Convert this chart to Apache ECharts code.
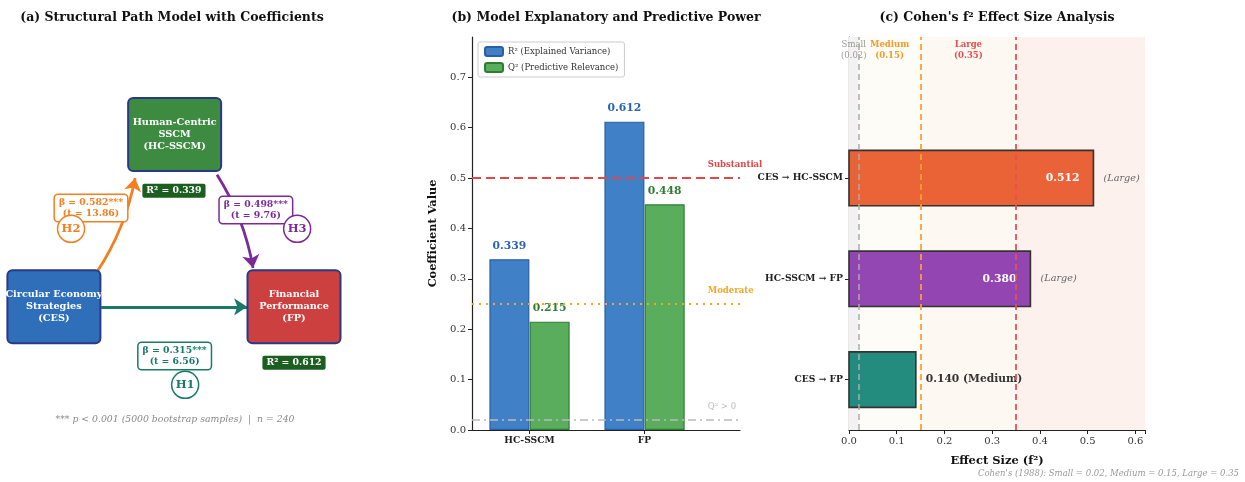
<!DOCTYPE html>
<html>
<head>
<meta charset="utf-8">
<script src="https://cdn.jsdelivr.net/npm/echarts@6/dist/echarts.min.js"></script>
<style>
  html, body { margin: 0; padding: 0; background: #fff; }
  #chart { width: 1245px; height: 482px; }
</style>
</head>
<body>
<div id="chart"></div>
<script>
// (a) path model
const constructs = ['CES', 'HC-SSCM', 'FP'];
const constructLabels = ['Circular Economy\nStrategies\n(CES)', 'Human-Centric\nSSCM\n(HC-SSCM)', 'Financial\nPerformance\n(FP)'];
const pathHypotheses = ['H1', 'H2', 'H3'];
const pathFrom = ['CES', 'CES', 'HC-SSCM'];
const pathTo = ['FP', 'HC-SSCM', 'FP'];
const pathBeta = [0.315, 0.582, 0.498];
const pathT = [6.56, 13.86, 9.76];
const r2Targets = ['HC-SSCM', 'FP'];
const r2Model = [0.339, 0.612];

// (b) explanatory / predictive power
const powerCategories = ['HC-SSCM', 'FP'];
const r2Values = [0.339, 0.612];
const q2Values = [0.215, 0.448];
const refNames = ['Substantial', 'Moderate', 'Q² > 0'];
const refValues = [0.5, 0.25, 0.02];

// (c) effect sizes
const effectPaths = ['CES → FP', 'HC-SSCM → FP', 'CES → HC-SSCM'];
const effectValues = [0.140, 0.380, 0.512];
const effectClasses = ['Medium', 'Large', 'Large'];
const cohenNames = ['Small', 'Medium', 'Large'];
const cohenThresholds = [0.02, 0.15, 0.35];

// layout of the diagram, in the (0..10) units of the hidden panel (a) axes
const modelLayout = {
  nodes: { 'CES': [1.54, 3.33], 'HC-SSCM': [4.99, 7.64], 'FP': [8.4, 3.33] },
  arrows: [[[2.89, 3.33], [7.06, 3.33], 0], [[2.77, 4.2], [3.86, 6.55], -0.1], [[6.2, 6.63], [7.23, 4.3], 0.1]],
  betaBox: [[4.99, 2.1], [2.6, 5.8], [7.31, 5.75]],
  hypCircle: [[5.29, 1.38], [2.03, 5.28], [8.49, 5.28]],
  r2Box: { 'HC-SSCM': [4.97, 6.23], 'FP': [8.4, 1.93] }
};

const FONT = '"DejaVu Serif"';
const nodeColors = { 'CES': '#2f6fba', 'HC-SSCM': '#3d8b40', 'FP': '#cc4040' };
const pathColors = ['#1a7a68', '#f57f20', '#7b2a98'];
const effectColors = ['rgba(0,121,107,0.86)', 'rgba(123,31,162,0.82)', 'rgba(230,74,25,0.86)'];
const cohenLineColors = ['#aaaaaa', '#ffa030', '#e85050'];
const cohenTextColors = ['#999999', '#f59a25', '#e05050'];
const cohenBandColors = ['#f2f2f2', '#fefcf7', '#fdf8f1', '#fdf1ee'];
const refColors = ['#e04848', '#f5a623', '#bbbbbb'];

const chart = echarts.init(document.getElementById('chart'), null, { renderer: 'canvas' });

const txt = (x, y, text, font, fill, align) => ({
  type: 'text', x: x, y: y,
  style: { text: text, font: font, fill: fill, textAlign: align || 'center', textVerticalAlign: 'middle', align: align || 'center', verticalAlign: 'middle' }
});

const cohenEdges = [0].concat(cohenThresholds);
const cohenMids = cohenThresholds.map((t, i) => (cohenEdges[i] + t) / 2);
const isInt = v => Math.abs(v - Math.round(v)) < 1e-6;
const solid = { opacity: 1 };

const option = {
  animation: false,
  textStyle: { fontFamily: FONT },
  graphic: [
    txt(172, 18, '(a) Structural Path Model with Coefficients', 'bold 12.5px ' + FONT, '#111'),
    txt(606, 18, '(b) Model Explanatory and Predictive Power', 'bold 12.5px ' + FONT, '#111'),
    txt(997, 18, "(c) Cohen's f² Effect Size Analysis", 'bold 12.5px ' + FONT, '#111'),
    txt(175, 420, '*** p < 0.001 (5000 bootstrap samples)  |  n = 240', 'italic 9.3px ' + FONT, '#888'),
    txt(1239, 474, "Cohen's (1988): Small = 0.02, Medium = 0.15, Large = 0.35", 'italic 8.5px ' + FONT, '#999', 'right')
  ],
  legend: {
    left: 478, top: 42, orient: 'vertical',
    data: ['R² (Explained Variance)', 'Q² (Predictive Relevance)'],
    backgroundColor: '#fff', borderColor: '#cccccc', borderWidth: 1, borderRadius: 2,
    padding: [4, 6], itemGap: 5, itemWidth: 18, itemHeight: 9,
    textStyle: { fontSize: 8.5, color: '#333', fontFamily: FONT }
  },
  grid: [
    { left: 0, top: 40, width: 350, height: 400 },
    { left: 472, top: 37, width: 268, height: 393 },
    { left: 849, top: 37, width: 296, height: 393 }
  ],
  xAxis: [
    { gridIndex: 0, type: 'value', min: 0, max: 10, show: false },
    {
      gridIndex: 1, type: 'value', min: -0.5, max: 1.83,
      splitLine: { show: false },
      axisTick: { show: true, length: 4, customValues: [0, 1], lineStyle: { color: '#222' } },
      axisLine: { show: true, onZero: false, lineStyle: { color: '#222', width: 1.2 } },
      axisLabel: {
        color: '#222', fontWeight: 'bold', fontSize: 9.2, margin: 6, customValues: [0, 1],
        formatter: v => isInt(v) && powerCategories[Math.round(v)] ? powerCategories[Math.round(v)] : ''
      }
    },
    {
      gridIndex: 2, type: 'value', min: 0, max: 0.62, interval: 0.1,
      splitLine: { show: false },
      axisLine: { show: true, onZero: false, lineStyle: { color: '#222', width: 1.2 } },
      axisTick: { show: true, length: 4, lineStyle: { color: '#222' } },
      axisLabel: { color: '#333', fontSize: 10, margin: 6, formatter: v => v > 0.61 ? '' : v.toFixed(1) },
      name: 'Effect Size (f²)', nameLocation: 'middle', nameGap: 25,
      nameTextStyle: { fontWeight: 'bold', fontSize: 11.5, color: '#111', fontFamily: FONT }
    }
  ],
  yAxis: [
    { gridIndex: 0, type: 'value', min: 0, max: 10, show: false },
    {
      gridIndex: 1, type: 'value', min: 0, max: 0.78, interval: 0.1,
      splitLine: { show: false },
      axisLine: { show: true, onZero: false, lineStyle: { color: '#222', width: 1.2 } },
      axisTick: { show: true, length: 4, customValues: [0, 0.1, 0.2, 0.3, 0.4, 0.5, 0.6, 0.7], lineStyle: { color: '#222' } },
      axisLabel: { color: '#333', fontSize: 10, margin: 6, formatter: v => v > 0.75 ? '' : v.toFixed(1) },
      name: 'Coefficient Value', nameLocation: 'middle', nameGap: 33, nameRotate: 90,
      nameTextStyle: { fontWeight: 'bold', fontSize: 11.3, color: '#111', fontFamily: FONT }
    },
    {
      gridIndex: 2, type: 'value', min: -0.5, max: 3.4,
      splitLine: { show: false },
      axisTick: { show: true, length: 4, customValues: [0, 1, 2], lineStyle: { color: '#222' } },
      axisLine: { show: true, onZero: false, lineStyle: { color: '#222', width: 1.2 } },
      axisLabel: {
        color: '#222', fontWeight: 'bold', fontSize: 9.2, margin: 6, customValues: [0, 1, 2],
        formatter: v => isInt(v) && effectPaths[Math.round(v)] ? effectPaths[Math.round(v)] : ''
      }
    }
  ],
  series: [
    // (a) construct boxes
    {
      type: 'custom', xAxisIndex: 0, yAxisIndex: 0, silent: true, z: 5,
      data: constructs.map(c => modelLayout.nodes[c]),
      renderItem: (params, api) => {
        const p = api.coord([api.value(0), api.value(1)]);
        const w = 93, h = 73;
        const name = constructs[params.dataIndex];
        return {
          type: 'group',
          children: [
            { type: 'rect', shape: { x: p[0] - w / 2, y: p[1] - h / 2, width: w, height: h, r: 5 },
              style: { fill: nodeColors[name], stroke: '#283a86', lineWidth: 2 } },
            { type: 'text', x: p[0], y: p[1],
              style: { text: constructLabels[params.dataIndex], fill: '#fff', font: 'bold 9.7px ' + FONT, lineHeight: 12,
                textAlign: 'center', textVerticalAlign: 'middle', align: 'center', verticalAlign: 'middle' } }
          ]
        };
      }
    },
    // (a) path arrows
    {
      type: 'lines', coordinateSystem: 'cartesian2d', xAxisIndex: 0, yAxisIndex: 0, silent: true, z: 4,
      symbol: ['none', 'arrow'], symbolSize: 13,
      data: pathHypotheses.map((h, i) => ({
        coords: [modelLayout.arrows[i][0], modelLayout.arrows[i][1]],
        lineStyle: { color: pathColors[i], width: 2.8, curveness: modelLayout.arrows[i][2], opacity: 1 }
      }))
    },
    // (a) coefficient boxes
    {
      type: 'scatter', xAxisIndex: 0, yAxisIndex: 0, silent: true, symbolSize: 0, z: 6, itemStyle: solid,
      data: pathBeta.map((b, i) => ({
        value: modelLayout.betaBox[i],
        label: {
          show: true, position: 'inside',
          formatter: 'β = ' + b.toFixed(3) + '***\n(t = ' + pathT[i].toFixed(2) + ')',
          color: pathColors[i], fontWeight: 'bold', fontSize: 9.3, lineHeight: 11.5, align: 'center',
          backgroundColor: '#fff', borderColor: pathColors[i], borderWidth: 1.5, borderRadius: 3, padding: [2, 4, 1, 4]
        }
      }))
    },
    // (a) hypothesis circles
    {
      type: 'scatter', xAxisIndex: 0, yAxisIndex: 0, silent: true, symbol: 'circle', symbolSize: 27, z: 7,
      data: pathHypotheses.map((h, i) => ({
        value: modelLayout.hypCircle[i],
        itemStyle: { color: '#fff', borderColor: pathColors[i], borderWidth: 1.5, opacity: 1 },
        label: { show: true, position: 'inside', formatter: h, color: pathColors[i], fontWeight: 'bold', fontSize: 11.5 }
      }))
    },
    // (a) R² boxes
    {
      type: 'scatter', xAxisIndex: 0, yAxisIndex: 0, silent: true, symbolSize: 0, z: 6, itemStyle: solid,
      data: r2Targets.map((t, i) => ({
        value: modelLayout.r2Box[t],
        label: {
          show: true, position: 'inside', formatter: 'R² = ' + r2Model[i].toFixed(3),
          color: '#fff', fontWeight: 'bold', fontSize: 9.3, backgroundColor: '#1b5e20', borderRadius: 2, padding: [3, 4, 2, 4]
        }
      }))
    },
    // (b) bars
    {
      name: 'R² (Explained Variance)', type: 'bar', xAxisIndex: 1, yAxisIndex: 1,
      barWidth: 40, barGap: '-100%',
      data: r2Values.map((v, i) => [i - 0.175, v]),
      itemStyle: { color: '#3f80c6', borderColor: '#2a5fa8', borderWidth: 1.2 },
      label: { show: true, position: 'top', distance: 8, formatter: p => p.value[1].toFixed(3),
        color: '#2a62b6', fontWeight: 'bold', fontSize: 10.8 }
    },
    {
      name: 'Q² (Predictive Relevance)', type: 'bar', xAxisIndex: 1, yAxisIndex: 1,
      barWidth: 40, barGap: '-100%',
      data: q2Values.map((v, i) => [i + 0.175, v]),
      itemStyle: { color: '#5aad5c', borderColor: '#2e7d32', borderWidth: 1.2 },
      label: { show: true, position: 'top', distance: 8, formatter: p => p.value[1].toFixed(3),
        color: '#2e7d32', fontWeight: 'bold', fontSize: 10.8 }
    },
    // (b) reference lines and their labels
    {
      type: 'scatter', xAxisIndex: 1, yAxisIndex: 1, silent: true, symbolSize: 0, z: 3, itemStyle: solid,
      data: refValues.map((v, i) => ({
        value: [1.55, v],
        label: { show: true, position: 'right', distance: 0, offset: [0, -13], formatter: refNames[i],
          color: refColors[i], fontWeight: i < 2 ? 'bold' : 'normal', fontSize: 8.5 }
      })),
      markLine: {
        silent: true, symbol: 'none', label: { show: false },
        data: [
          { yAxis: refValues[0], lineStyle: { color: refColors[0], width: 2, type: [9, 5] } },
          { yAxis: refValues[1], lineStyle: { color: refColors[1], width: 2, type: [2, 5] } },
          { yAxis: refValues[2], lineStyle: { color: refColors[2], width: 1.5, type: [8, 4, 2, 4] } }
        ]
      }
    },
    // (c) Cohen bands
    {
      type: 'scatter', xAxisIndex: 2, yAxisIndex: 2, silent: true, data: [], z: 0,
      markArea: {
        silent: true,
        data: cohenBandColors.map((c, i) => [
          { xAxis: i === 0 ? 0 : cohenThresholds[i - 1], itemStyle: { color: c, opacity: 1 } },
          { xAxis: i < cohenThresholds.length ? cohenThresholds[i] : 0.62 }
        ])
      }
    },
    // (c) threshold lines
    {
      type: 'scatter', xAxisIndex: 2, yAxisIndex: 2, silent: true, data: [], z: 1,
      markLine: {
        silent: true, symbol: 'none', label: { show: false },
        data: cohenThresholds.map((t, i) => ({ xAxis: t, lineStyle: { color: cohenLineColors[i], width: i ? 2 : 1.5, type: [6, 4], opacity: i ? 0.9 : 1 } }))
      }
    },
    // (c) effect bars
    {
      type: 'custom', xAxisIndex: 2, yAxisIndex: 2, silent: true, z: 2,
      encode: { x: 0, y: 1 },
      data: effectValues.map((v, i) => [v, i]),
      renderItem: (params, api) => {
        const y = api.value(1);
        const p0 = api.coord([0, y]);
        const p1 = api.coord([api.value(0), y]);
        const h = api.size([0, 0.55])[1];
        return {
          type: 'rect',
          shape: { x: p0[0], y: p0[1] - h / 2, width: p1[0] - p0[0], height: h },
          style: { fill: effectColors[params.dataIndex], stroke: '#333', lineWidth: 1.6 }
        };
      }
    },
    // (c) value labels
    {
      type: 'scatter', xAxisIndex: 2, yAxisIndex: 2, silent: true, symbolSize: 0, z: 4, itemStyle: solid,
      data: effectValues.map((v, i) => ({
        value: [v, i],
        label: v >= 0.3
          ? { show: true, position: 'left', distance: 14, formatter: v.toFixed(3), color: '#fff', fontWeight: 'bold', fontSize: 10.8 }
          : { show: true, position: 'right', distance: 10, formatter: v.toFixed(3) + ' (' + effectClasses[i] + ')', color: '#333', fontWeight: 'bold', fontSize: 10.7 }
      }))
    },
    {
      type: 'scatter', xAxisIndex: 2, yAxisIndex: 2, silent: true, symbolSize: 0, z: 4, itemStyle: solid,
      data: effectValues.map((v, i) => ({
        value: [v, i],
        label: { show: v >= 0.3, position: 'right', distance: 10, formatter: '(' + effectClasses[i] + ')', color: '#666', fontStyle: 'italic', fontSize: 9.7 }
      }))
    },
    // (c) threshold captions
    {
      type: 'scatter', xAxisIndex: 2, yAxisIndex: 2, silent: true, symbolSize: 0, z: 4, itemStyle: solid,
      data: cohenThresholds.map((t, i) => ({
        value: [cohenMids[i], 3.27],
        label: { show: true, position: 'inside', formatter: cohenNames[i] + '\n(' + t.toFixed(2) + ')',
          color: cohenTextColors[i], fontWeight: i ? 'bold' : 'normal', fontSize: 8.5, lineHeight: 11, align: 'center' }
      }))
    }
  ]
};

chart.setOption(option);
</script>
</body>
</html>
